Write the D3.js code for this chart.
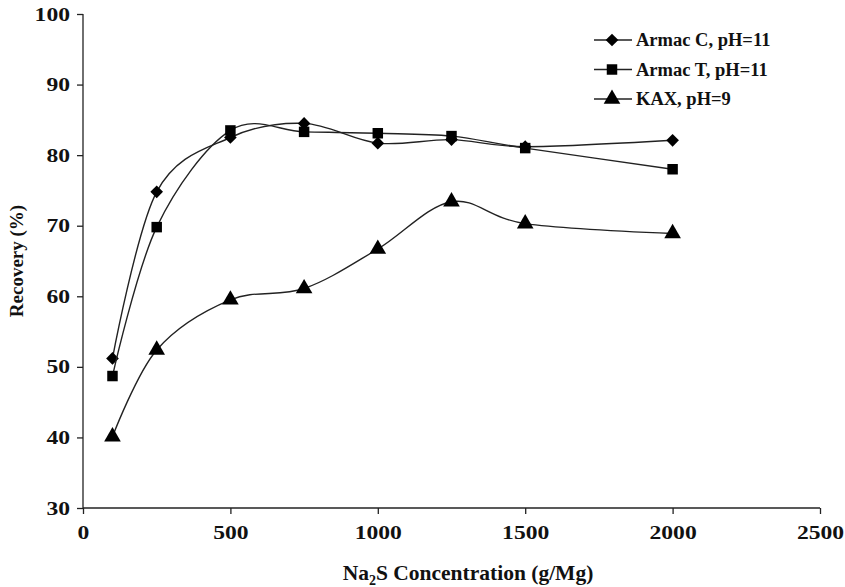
<!DOCTYPE html>
<html><head><meta charset="utf-8">
<script src="https://cdn.jsdelivr.net/npm/d3@7"></script>
<style>body{margin:0;background:#fff}svg text{font-family:"Liberation Serif","Times New Roman",serif;font-weight:bold;fill:#111}</style>
</head><body><svg id="c" width="845" height="587"></svg>
<script>
const xValues = [100, 250, 500, 750, 1000, 1250, 1500, 2000];
const armacC = [51.2, 74.8, 82.5, 84.5, 81.7, 82.2, 81.2, 82.1];
const armacT = [48.7, 69.8, 83.5, 83.3, 83.1, 82.7, 81.0, 78.0];
const kax = [40.1, 52.4, 59.5, 61.1, 66.7, 73.4, 70.3, 68.9];
const seriesNames = ["Armac C, pH=11", "Armac T, pH=11", "KAX, pH=9"];
const xTicks = [0, 500, 1000, 1500, 2000, 2500];
const yTicks = [30, 40, 50, 60, 70, 80, 90, 100];

const svg = d3.select("#c");
const x = d3.scaleLinear().domain([0, 2500]).range([83, 820]);
const y = d3.scaleLinear().domain([30, 100]).range([508, 14]);

const yAxis = svg.append("g").attr("transform", "translate(83,0)")
  .call(d3.axisLeft(y).tickValues(yTicks).tickFormat(d3.format("d")).tickSize(6).tickPadding(7));
const xAxis = svg.append("g").attr("transform", "translate(0,508)")
  .call(d3.axisBottom(x).tickValues(xTicks).tickFormat(d3.format("d")).tickSize(6).tickPadding(12));
[yAxis, xAxis].forEach(a => {
  a.selectAll("path,line").attr("stroke", "#222").attr("stroke-width", 1.3);
  a.selectAll("text").style("font-size", "19px").attr("fill", "#111")
    .attr("lengthAdjust", "spacingAndGlyphs")
    .attr("textLength", function () { return this.textContent.length * 11.8; });
});
xAxis.select(".domain").attr("d", "M83,0H820");
yAxis.select(".domain").attr("d", "M0,14V508");

svg.append("text").attr("transform", "translate(23,261) rotate(-90)")
  .attr("text-anchor", "middle").style("font-size", "19px").text("Recovery (%)");
const xt = svg.append("text").attr("x", 468).attr("y", 580).attr("text-anchor", "middle").style("font-size", "21.5px");
xt.append("tspan").text("Na");
xt.append("tspan").attr("dy", 5).style("font-size", "14px").text("2");
xt.append("tspan").attr("dy", -5).text("S Concentration (g/Mg)");

const diamond = { draw(ctx, size) { const r = Math.sqrt(size / 2); ctx.moveTo(0, -r); ctx.lineTo(r, 0); ctx.lineTo(0, r); ctx.lineTo(-r, 0); ctx.closePath(); } };
const shapes = [diamond, d3.symbolSquare, d3.symbolTriangle];
const sizes = [80, 110, 120];
const data = [armacC, armacT, kax];
const line = d3.line().x(d => x(d[0])).y(d => y(d[1])).curve(d3.curveCardinal.tension(0));

data.forEach((vals, i) => {
  const pts = xValues.map((xv, j) => [xv, vals[j]]);
  svg.append("path").datum(pts).attr("d", line).attr("fill", "none")
    .attr("stroke", "#222").attr("stroke-width", 1.4);
  svg.selectAll(null).data(pts).enter().append("path")
    .attr("transform", d => `translate(${x(d[0])},${y(d[1])})`)
    .attr("d", d3.symbol().type(shapes[i]).size(sizes[i])).attr("fill", "#000");
});

const lg = svg.append("g");
seriesNames.forEach((name, i) => {
  const yy = 40 + i * 29.5;
  lg.append("line").attr("x1", 594).attr("x2", 632).attr("y1", yy).attr("y2", yy)
    .attr("stroke", "#222").attr("stroke-width", 1.4);
  lg.append("path").attr("transform", `translate(612,${yy})`)
    .attr("d", d3.symbol().type(shapes[i]).size(sizes[i])).attr("fill", "#000");
  lg.append("text").attr("x", 636).attr("y", yy + 6).style("font-size", "18.5px").text(name);
});
</script></body></html>
